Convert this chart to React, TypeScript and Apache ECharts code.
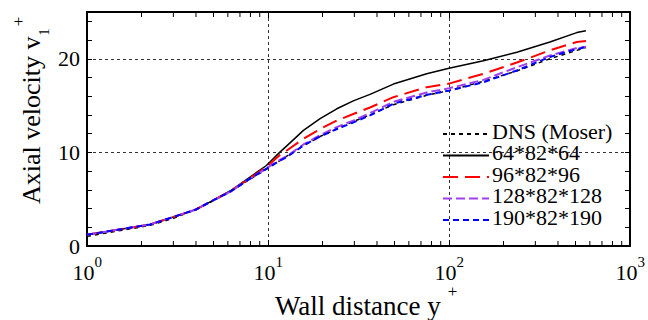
import React, { useEffect, useRef } from "react";
import * as echarts from "echarts";

// wall distance y+ sample positions (log axis)
const yPlus = [1, 2.23, 3, 4, 5, 6.2, 7.6, 9.8, 11.6, 12.7, 15.7, 19.4, 24, 29.6, 36.6, 49.3, 75.3, 100, 155, 237, 361, 508, 571];
// axial velocity v1+ for each case
const dnsMoser = [1.03, 2.2, 2.95, 3.9, 4.85, 5.8, 6.9, 8.2, 9.1, 9.6, 10.7, 11.7, 12.5, 13.3, 14.0, 15.1, 16.1, 16.6, 17.6, 18.7, 20.0, 20.9, 21.2];
const grid64 = [1.2, 2.3, 3.1, 3.9, 4.9, 5.9, 7.1, 8.6, 10.0, 10.7, 12.35, 13.6, 14.66, 15.5, 16.2, 17.3, 18.4, 19.0, 19.8, 20.7, 21.8, 22.8, 23.0];
const grid96 = [1.2, 2.3, 3.1, 3.9, 4.9, 5.85, 7.0, 8.45, 9.7, 10.2, 11.46, 12.5, 13.4, 14.1, 14.8, 15.9, 16.97, 17.35, 18.4, 19.6, 20.9, 21.8, 21.9];
const grid128 = [1.2, 2.3, 3.1, 3.9, 4.9, 5.8, 6.95, 8.3, 9.2, 9.6, 10.85, 11.85, 12.7, 13.4, 14.2, 15.4, 16.4, 16.85, 17.75, 19.1, 20.35, 21.15, 21.3];
const grid190 = [1.2, 2.3, 3.1, 3.9, 4.9, 5.8, 6.95, 8.26, 9.1, 9.5, 10.75, 11.7, 12.5, 13.2, 13.95, 15.2, 16.15, 16.6, 17.5, 18.75, 20.2, 21.05, 21.24];

const seriesNames = ["DNS (Moser)", "64*82*64", "96*82*96", "128*82*128", "190*82*190"];
const yMajorTicks = [0, 10, 20];
const xMajorTicks = [1, 10, 100, 1000];

const X_MIN = 1;
const X_MAX = 1000;
const Y_MIN = 0;
const Y_MAX = 25;

const FONT = "Liberation Serif";

function pairs(vals: number[]) {
  return yPlus.map((x, i) => [x, vals[i]]);
}

function txt(text: string, x: number, y: number, size: number, align: string, extra: any = {}, lineHeight?: number) {
  return {
    type: "text",
    x,
    y,
    silent: true,
    ...extra,
    style: {
      text,
      fontFamily: FONT,
      fontSize: size,
      fill: "#000",
      align,
      verticalAlign: "middle",
      textAlign: align,
      textVerticalAlign: "middle",
      ...(lineHeight ? { lineHeight } : {}),
    },
  };
}

export default function App() {
  const ref = useRef<HTMLDivElement>(null);

  useEffect(() => {
    if (!ref.current) return;
    const chart = echarts.init(ref.current, undefined, { renderer: "svg" });

    const minorVals: number[] = [];
    for (let d = 0; d < 3; d++) {
      for (let k = 2; k <= 9; k++) minorVals.push(k * Math.pow(10, d));
    }

    const axisLine = { show: true, onZero: false, lineStyle: { color: "#000", width: 2 } };
    const gridLine = { show: true, lineStyle: { color: "#333", width: 1, type: [3, 3] as any } };

    const lineSeries = (name: string, vals: number[], color: string, width: number, dash: any) => ({
      name,
      type: "line",
      data: pairs(vals),
      symbol: "none",
      showSymbol: false,
      smooth: false,
      lineStyle: { color, width, type: dash },
      itemStyle: { color },
      xAxisIndex: 0,
      yAxisIndex: 0,
      z: 3,
    });

    const LEGEND_TOP = 121;
    const LEGEND_STEP = 21.5;

    const option: any = {
      animation: false,
      backgroundColor: "#fff",
      grid: { left: 87, right: 18, top: 12, bottom: 74, containLabel: false },
      xAxis: [
        {
          type: "log",
          logBase: 10,
          min: X_MIN,
          max: X_MAX,
          position: "bottom",
          axisLine,
          axisTick: { show: true, inside: true, length: 6, lineStyle: { color: "#000", width: 1 } },
          splitLine: gridLine,
          axisLabel: { show: false },
        },
        {
          type: "log",
          logBase: 10,
          min: X_MIN,
          max: X_MAX,
          position: "top",
          axisLine,
          axisTick: { show: true, inside: true, length: 6, lineStyle: { color: "#000", width: 1 } },
          splitLine: { show: false },
          axisLabel: { show: false },
        },
      ],
      yAxis: [
        {
          type: "value",
          min: Y_MIN,
          max: Y_MAX,
          interval: 10,
          position: "left",
          axisLine,
          axisTick: { show: false },
          splitLine: gridLine,
          axisLabel: { show: false },
        },
        {
          type: "value",
          min: Y_MIN,
          max: Y_MAX,
          interval: 2,
          position: "left",
          axisLine,
          axisTick: { show: true, inside: true, length: 5, lineStyle: { color: "#000", width: 1 } },
          splitLine: { show: false },
          axisLabel: { show: false },
        },
        {
          type: "value",
          min: Y_MIN,
          max: Y_MAX,
          interval: 2,
          position: "right",
          axisLine,
          axisTick: { show: true, inside: true, length: 5, lineStyle: { color: "#000", width: 1 } },
          splitLine: { show: false },
          axisLabel: { show: false },
        },
      ],
      legend: seriesNames.map((n, i) => ({
        data: [n],
        orient: "vertical",
        left: 437,
        top: LEGEND_TOP + i * LEGEND_STEP,
        itemWidth: 46,
        itemHeight: 20,
        itemGap: 0,
        itemStyle: { color: "rgba(0,0,0,0)", borderColor: "rgba(0,0,0,0)", borderWidth: 0, opacity: 0 },
        formatter: () => "",
        textStyle: { fontSize: 20, lineHeight: 20 },
        selectedMode: false,
      })),
      series: [
        lineSeries(seriesNames[0], dnsMoser, "#000000", 1.5, [4, 4]),
        lineSeries(seriesNames[1], grid64, "#000000", 1.5, "solid"),
        lineSeries(seriesNames[2], grid96, "#ff0000", 2, [15, 7]),
        lineSeries(seriesNames[3], grid128, "#a040f0", 2, [9, 4]),
        lineSeries(seriesNames[4], grid190, "#0000ff", 2, [6, 4]),
        {
          name: "minorTicks",
          type: "custom",
          silent: true,
          clip: false,
          xAxisIndex: 0,
          yAxisIndex: 0,
          data: minorVals.map((v) => [v, Y_MIN]),
          encode: { x: 0, y: 1 },
          z: 5,
          renderItem: (_params: any, api: any) => {
            const v = api.value(0);
            const b = api.coord([v, Y_MIN]);
            const t = api.coord([v, Y_MAX]);
            return {
              type: "group",
              children: [
                { type: "line", shape: { x1: b[0], y1: b[1], x2: b[0], y2: b[1] - 5 }, style: { stroke: "#000", lineWidth: 1 } },
                { type: "line", shape: { x1: t[0], y1: t[1], x2: t[0], y2: t[1] + 5 }, style: { stroke: "#000", lineWidth: 1 } },
              ],
            };
          },
        },
        {
          name: "yTickLabels",
          type: "custom",
          silent: true,
          clip: false,
          xAxisIndex: 0,
          yAxisIndex: 0,
          data: yMajorTicks.map((v) => [X_MIN, v]),
          encode: { x: 0, y: 1 },
          z: 5,
          renderItem: (_params: any, api: any) => {
            const v = api.value(1);
            const p = api.coord([X_MIN, v]);
            return txt(String(v), p[0] - 7, p[1], 22, "right");
          },
        },
        {
          name: "xTickLabels",
          type: "custom",
          silent: true,
          clip: false,
          xAxisIndex: 0,
          yAxisIndex: 0,
          data: xMajorTicks.map((v) => [v, Y_MIN]),
          encode: { x: 0, y: 1 },
          z: 5,
          renderItem: (_params: any, api: any) => {
            const v = api.value(0);
            const p = api.coord([v, Y_MIN]);
            const exp = String(Math.round(Math.log10(v)));
            return {
              type: "group",
              children: [
                txt("10", p[0] + 7.5, p[1] + 26, 22, "right"),
                txt(exp, p[0] + 7.5, p[1] + 15.7, 15, "left"),
              ],
            };
          },
        },
      ],
      graphic: [
        txt("Wall distance y", 275, 306, 27, "left"),
        txt("+", 452.5, 291.5, 17, "center"),
        txt("Axial velocity v", 31, 204, 26, "left", { rotation: Math.PI / 2 }),
        txt("1", 43.5, 32, 15, "center", { rotation: Math.PI / 2 }),
        txt("+", 18, 21.5, 17, "center", { rotation: Math.PI / 2 }),
        ...seriesNames.map((n, i) => txt(n, 492, LEGEND_TOP + 10 + i * LEGEND_STEP, 22, "left", {}, 20)),
      ],
    };

    chart.setOption(option);
    return () => chart.dispose();
  }, []);

  return (
    <div
      ref={ref}
      style={{ position: "fixed", left: 0, top: 0, width: 648, height: 320, background: "#fff" }}
    />
  );
}
